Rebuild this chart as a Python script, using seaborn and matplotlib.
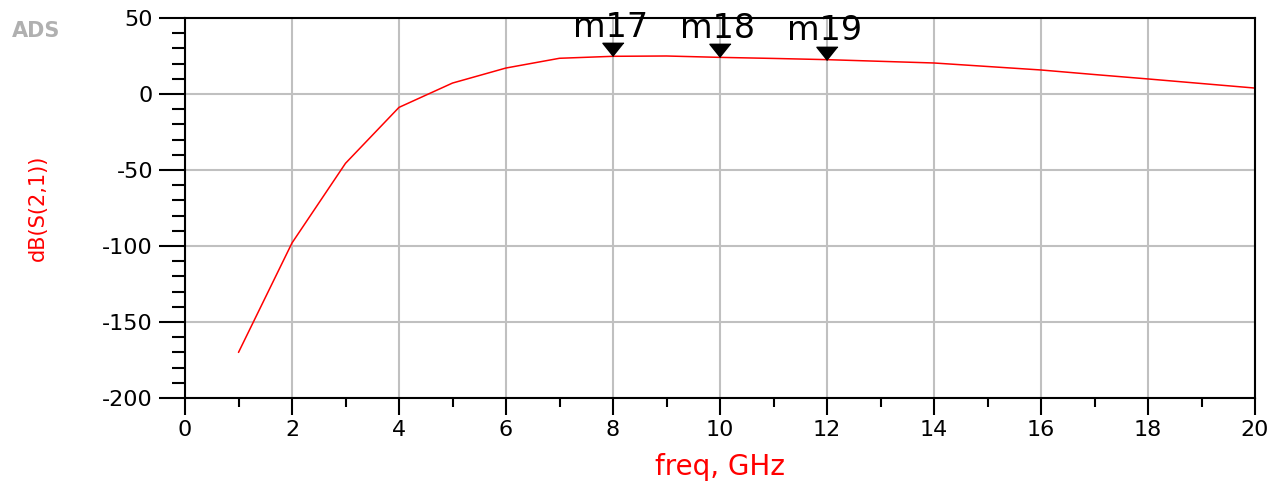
import numpy as np
import pandas as pd
import matplotlib
matplotlib.use('Agg')
import matplotlib.pyplot as plt
import seaborn as sns

# S21 sweep
freq_ghz = [1, 2, 3, 4, 5, 6, 7, 8, 9, 10, 11, 12, 13, 14, 15, 16, 17, 18, 19, 20]
db_s21 = [-170.0, -98.0, -45.6, -8.8, 7.2, 17.1, 23.5, 24.8, 25.0, 24.1,
          23.4, 22.6, 21.5, 20.4, 18.1, 15.8, 12.8, 9.9, 6.9, 3.9]

# markers
marker_names = ['m17', 'm18', 'm19']
marker_freq = [8, 10, 12]

x_ticks = [0, 2, 4, 6, 8, 10, 12, 14, 16, 18, 20]
y_ticks = [-200, -150, -100, -50, 0, 50]

df = pd.DataFrame({'freq': freq_ghz, 'db': db_s21})
mk = df.set_index('freq').loc[marker_freq].reset_index()

sns.set_theme(style='white')
plt.rcParams['font.family'] = ['DejaVu Sans']
plt.rcParams['axes.unicode_minus'] = False

fig = plt.figure(figsize=(12.8, 4.82), dpi=100)
ax = fig.add_axes([185 / 1280, 1 - 398 / 482, 1070 / 1280, 380 / 482])

sns.lineplot(data=df, x='freq', y='db', color='#ff0000', linewidth=1.1, ax=ax)

# down triangles with tip on the trace
tri = [(0, 0), (-0.8, 1), (0.8, 1)]
ax.plot(mk['freq'], mk['db'], linestyle='none', marker=tri, markersize=19,
        color='black', clip_on=False, zorder=5)
for name, fx, fy in zip(marker_names, mk['freq'], mk['db']):
    ax.annotate(name, xy=(fx, fy), xytext=(-2, 14), textcoords='offset points',
                ha='center', va='baseline', fontsize=24, color='black',
                annotation_clip=False)

ax.set_xlim(0, 20)
ax.set_ylim(-200, 50)
ax.set_xticks(x_ticks)
ax.set_yticks(y_ticks)
ax.set_xticks(np.arange(0, 21, 1), minor=True)
ax.set_yticks(np.arange(-200, 51, 10), minor=True)
ax.grid(True, which='major', color='#c0c0c0', linewidth=1.5)
ax.set_axisbelow(True)

for s in ax.spines.values():
    s.set_color('black')
    s.set_linewidth(1.5)

ax.tick_params(axis='y', which='major', direction='out', length=19, width=1.5,
               color='black', labelcolor='black', labelsize=16, pad=4, left=True)
ax.tick_params(axis='y', which='minor', direction='out', length=9.5, width=1.5,
               color='black', left=True)
ax.tick_params(axis='x', which='major', direction='out', length=12, width=1.5,
               color='black', labelcolor='black', labelsize=16, pad=4, bottom=True)
ax.tick_params(axis='x', which='minor', direction='out', length=6.5, width=1.5,
               color='black', bottom=True)

ax.set_xlabel('freq, GHz', color='#ff0000', fontsize=20)
ax.set_ylabel('dB(S(2,1))', color='#ff0000', fontsize=15)
ax.xaxis.set_label_coords(0.5, -0.145)
ax.yaxis.set_label_coords(-0.128, 0.5)

fig.text(36 / 1280, 1 - 31 / 482, 'ADS', ha='center', va='center',
         color='#b0b0b0', fontsize=15, fontweight='bold')

fig.savefig('out.png', dpi=100)
